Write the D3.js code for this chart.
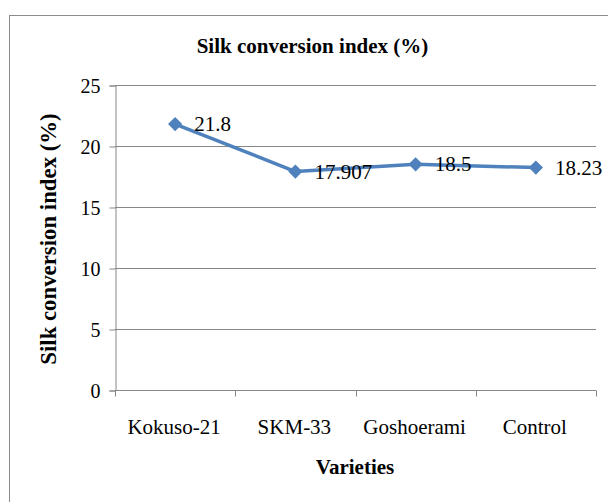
<!DOCTYPE html>
<html><head><meta charset="utf-8">
<script src="https://cdn.jsdelivr.net/npm/d3@7"></script>
<style>body{margin:0;background:#fff}svg{display:block}svg text{font-family:"Liberation Serif","Times New Roman","DejaVu Serif",serif}</style>
</head><body>
<svg id="c" width="608" height="502"></svg>
<script>
const categories = ["Kokuso-21", "SKM-33", "Goshoerami", "Control"];
const values = [21.8, 17.907, 18.5, 18.23];
const valueLabels = ["21.8", "17.907", "18.5", "18.23"];
const yTicks = [0, 5, 10, 15, 20, 25];
const title = "Silk conversion index (%)";
const yTitle = "Silk conversion index (%)";
const xTitle = "Varieties";

(function () {
const svg = d3.select("#c");
const grey = "#868686";

svg.append("rect").attr("x", 9.5).attr("y", 15.5).attr("width", 700).attr("height", 600)
  .attr("fill", "none").attr("stroke", "#8c8c8c").attr("stroke-width", 1);

const pLeft = 115, pRight = 596, pTop = 85, pBottom = 390;
const x = d3.scaleBand().domain(categories).range([pLeft, pRight]);
const y = d3.scaleLinear().domain([0, 25]).range([pBottom, pTop]);

svg.append("g").selectAll("line").data(yTicks.filter(d => d > 0)).join("line")
  .attr("x1", pLeft).attr("x2", pRight)
  .attr("y1", d => Math.round(y(d)) + 0.5).attr("y2", d => Math.round(y(d)) + 0.5)
  .attr("stroke", grey).attr("stroke-width", 1);

const ya = svg.append("g").attr("transform", `translate(${pLeft + 0.5},0.5)`)
  .call(d3.axisLeft(y).tickValues(yTicks).tickSize(6).tickPadding(9));
ya.attr("font-family", null).attr("font-size", null);
ya.select(".domain").attr("stroke", grey);
ya.selectAll(".tick line").attr("stroke", grey);
ya.selectAll("text").attr("font-size", 20).attr("fill", "#000").attr("dy", "0.34em");

const xa = svg.append("g").attr("transform", `translate(0,${pBottom + 0.5})`);
xa.append("line").attr("x1", pLeft).attr("x2", pRight).attr("stroke", grey);
const bounds = categories.map(c => x(c)).concat([pRight]);
xa.selectAll("line.t").data(bounds).join("line").attr("class", "t")
  .attr("x1", d => Math.round(d) + 0.5).attr("x2", d => Math.round(d) + 0.5)
  .attr("y1", 0).attr("y2", 6).attr("stroke", grey);
xa.selectAll("text").data(categories).join("text")
  .attr("x", d => x(d) + x.bandwidth() / 2 - 1).attr("y", 43)
  .attr("text-anchor", "middle").attr("font-size", 21)
  .text(d => d);

const pts = categories.map((c, i) => [x(c) + x.bandwidth() / 2, y(values[i])]);
svg.append("path").datum(pts).attr("d", d3.line())
  .attr("fill", "none").attr("stroke", "#4F81BD").attr("stroke-width", 3.5)
  .attr("stroke-linejoin", "round");
svg.append("g").selectAll("path").data(pts).join("path")
  .attr("d", d3.symbol(d3.symbolDiamond2, 130)())
  .attr("transform", d => `translate(${d[0]},${d[1]})`)
  .attr("fill", "#4F81BD");

svg.append("g").selectAll("text").data(pts).join("text")
  .attr("x", d => d[0] + 19).attr("y", d => d[1] + 7)
  .attr("font-size", 21).attr("fill", "#000")
  .text((d, i) => valueLabels[i]);

svg.append("text").attr("x", 312.5).attr("y", 53).attr("text-anchor", "middle")
  .attr("font-size", 21).attr("font-weight", "bold").text(title);
svg.append("text").attr("transform", "translate(56,239) rotate(-90)").attr("text-anchor", "middle")
  .attr("font-size", 22.8).attr("font-weight", "bold").text(yTitle);
svg.append("text").attr("x", 355).attr("y", 474).attr("text-anchor", "middle")
  .attr("font-size", 21).attr("font-weight", "bold").text(xTitle);
})();
</script>
</body></html>
